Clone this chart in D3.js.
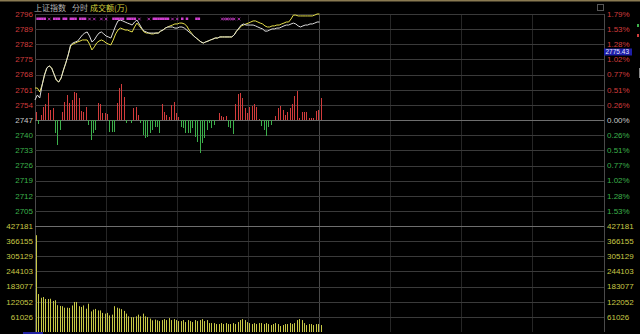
<!DOCTYPE html>
<html>
<head>
<meta charset="utf-8">
<script src="https://cdn.jsdelivr.net/npm/d3@7"></script>
<style>
  body { margin: 0; background: #000; }
  svg text { font-family: "Liberation Sans", Arial, sans-serif; font-size: 8px; }
</style>
</head>
<body>
<div id="chart"></div>
<script>
// ---------------- data ----------------
var preClose = 2747;
var priceTicks = [2796, 2789, 2782, 2775, 2768, 2761, 2754, 2747, 2740, 2733, 2726, 2719, 2712, 2705];
var pctTicks = ["1.79%", "1.53%", "1.28%", "1.02%", "0.77%", "0.51%", "0.26%", "0.00%",
                "0.26%", "0.51%", "0.77%", "1.02%", "1.28%", "1.53%"];
var volTicks = [427181, 366155, 305129, 244103, 183077, 122052, 61026];
var titleParts = ["上证指数", "分时", "成交额(万)"];
var cursorPrice = "2775.43";

// index (white) and unweighted index (yellow), one value per minute from 09:30
var indexLine = [2756.3, 2758.6, 2757.2, 2763.2, 2767.8, 2771.1, 2772.0, 2771.1, 2768.3, 2765.5,
  2764.6, 2766.4, 2770.1, 2773.4, 2777.1, 2781.7, 2782.6, 2783.1, 2783.5, 2784.9,
  2786.3, 2787.2, 2787.7, 2785.8, 2783.1, 2784.0, 2785.8, 2787.2, 2787.7, 2786.8,
  2785.8, 2785.4, 2784.9, 2787.7, 2790.5, 2792.8, 2793.2, 2792.8, 2792.3, 2791.8,
  2791.4, 2790.9, 2792.3, 2793.2, 2791.4, 2789.5, 2788.1, 2787.7, 2787.2, 2787.2,
  2787.2, 2787.2, 2787.2, 2788.1, 2788.6, 2789.5, 2790.0, 2790.0, 2790.0, 2789.5,
  2789.5, 2790.0, 2790.0, 2789.5, 2788.6, 2787.7, 2786.8, 2785.8, 2784.9, 2784.0,
  2783.1, 2782.6, 2783.1, 2783.5, 2784.0, 2784.4, 2784.9, 2784.9, 2785.4, 2785.4,
  2785.4, 2785.4, 2785.4, 2785.4, 2786.3, 2788.1, 2789.5, 2790.9, 2791.4, 2790.9,
  2790.9, 2790.9, 2790.9, 2790.5, 2790.0, 2789.5, 2789.1, 2788.1, 2788.1, 2788.6,
  2789.1, 2789.1, 2789.5, 2789.5, 2790.0, 2790.5, 2790.9, 2790.9, 2791.4, 2791.8,
  2791.4, 2790.5, 2790.0, 2790.5, 2790.9, 2790.9, 2791.4, 2791.4, 2791.8, 2792.3, 2792.3];

var avgLine = [2761.8, 2761.8, 2760.0, 2763.2, 2767.8, 2771.1, 2772.0, 2771.1, 2768.3, 2765.5,
  2764.6, 2766.4, 2770.1, 2773.4, 2777.1, 2781.2, 2782.1, 2782.6, 2783.1, 2783.5,
  2784.0, 2784.0, 2784.0, 2782.1, 2779.4, 2780.8, 2782.6, 2783.5, 2784.0, 2783.5,
  2782.6, 2782.1, 2781.7, 2784.0, 2786.8, 2788.6, 2789.5, 2789.1, 2788.6, 2788.6,
  2788.1, 2787.7, 2790.0, 2791.8, 2790.5, 2789.1, 2787.7, 2787.2, 2787.2, 2786.8,
  2786.8, 2787.2, 2787.2, 2788.1, 2788.6, 2789.5, 2790.0, 2790.5, 2790.9, 2791.4,
  2791.4, 2791.8, 2791.8, 2791.4, 2790.5, 2788.6, 2787.2, 2785.8, 2784.9, 2784.0,
  2783.1, 2782.6, 2783.1, 2783.5, 2784.0, 2784.4, 2784.9, 2784.9, 2785.4, 2785.4,
  2785.4, 2785.4, 2785.4, 2785.4, 2786.3, 2788.1, 2789.1, 2790.5, 2790.9, 2791.4,
  2791.8, 2792.3, 2792.8, 2792.8, 2792.3, 2791.8, 2791.4, 2790.5, 2790.0, 2790.0,
  2790.5, 2790.5, 2790.9, 2790.9, 2791.4, 2791.8, 2792.3, 2792.3, 2793.7, 2795.5,
  2795.5, 2795.1, 2795.1, 2795.1, 2795.1, 2795.1, 2795.1, 2795.1, 2795.5, 2796.0, 2796.0];

// buying / selling power bars (red up, green down)
var power = [8, -4, 5, 13, 16, 27, 10, 12, -13, -25,
  -10, 8, 18, 25, 17, 20, 28, 27, 22, 9,
  8, 13, -5, -20, -13, -10, 17, 16, 7, 7,
  6, -12, -12, -12, 17, 32, 36, 23, -3, 0,
  -3, 12, 13, 5, -3, -15, -18, -17, -13, -10,
  -7, -7, -13, 16, 8, 5, 3, 15, 18, 7,
  3, -7, -8, -13, -13, -13, -8, -17, -22, -33,
  -23, -18, -10, -3, -8, -5, 0, 7, 4, 3,
  4, -7, -8, -14, 16, 26, 27, 22, 12, 7,
  13, 14, 16, 13, 1, -6, -10, -16, -7, -5,
  0, 4, 12, 14, 10, 5, 8, 12, 16, 24,
  29, 2, 8, 8, 8, 2, 2, 2, 9, 10, 22];

// turnover per minute, in 万
var volume = [390000, 153000, 138000, 141000, 133000, 133000, 134000, 125000, 128000, 108000,
  105000, 104000, 98000, 98000, 97000, 107000, 121000, 121000, 104000, 101000,
  107000, 94000, 114000, 83000, 90000, 93000, 87000, 87000, 77000, 74000,
  77000, 67000, 70000, 104000, 98000, 95000, 92000, 85000, 74000, 63000,
  60000, 60000, 63000, 70000, 63000, 74000, 63000, 60000, 54000, 47000,
  50000, 47000, 44000, 48000, 52000, 48000, 56000, 48000, 52000, 48000,
  44000, 44000, 48000, 40000, 48000, 44000, 40000, 48000, 44000, 48000,
  52000, 44000, 48000, 36000, 36000, 36000, 32000, 32000, 36000, 32000,
  36000, 32000, 32000, 36000, 32000, 40000, 48000, 52000, 48000, 40000,
  36000, 32000, 36000, 32000, 36000, 36000, 32000, 36000, 32000, 28000,
  32000, 36000, 32000, 24000, 28000, 32000, 32000, 36000, 32000, 36000,
  48000, 52000, 48000, 36000, 28000, 32000, 32000, 28000, 32000, 32000, 28000];

// minutes that carry a signal mark in the strip under the title
var markSquares = [1, 2, 3, 4, 8, 9, 10, 12, 13, 15, 16, 17, 19, 20, 21, 33, 34, 35, 36, 37, 39, 40, 41, 42, 50, 51, 52, 53, 54, 55, 56, 62, 64, 68, 69];
var markCrosses = [6, 23, 25, 28, 30, 44, 48, 58, 60, 79, 80, 81, 82, 83, 84, 86];

// ---------------- layout ----------------
var width = 640, height = 334;
var left = 35, right = 604;
var upCol = "#d23c3c", downCol = "#3cb04b", flatCol = "#c8c8c8", volCol = "#c8c846";

var x = d3.scaleLinear().domain([0, 240]).range([left, right]);
var y = d3.scaleLinear().domain([2705, 2796]).range([211, 14]);
var yPow = d3.scaleLinear().domain([-106, 106]).range([226, 14]);
var yVol = d3.scaleLinear().domain([0, 427181]).range([332, 226]);

// bar centre for minute i (half-pixel so 1px strokes stay sharp)
function bx(i) { return Math.round(x(i)) + 1.5; }

var svg = d3.select("#chart").append("svg")
  .attr("width", width).attr("height", height)
  .style("background", "#000");

// top border
svg.append("rect").attr("x", 0).attr("y", 0).attr("width", width).attr("height", 1.5).attr("fill", "#8a7a52");

// ---- grid ----
var grid = svg.append("g").attr("shape-rendering", "crispEdges");
d3.range(0, 241, 30).forEach(function (m) {
  grid.append("line")
    .attr("x1", x(m)).attr("x2", x(m)).attr("y1", 14).attr("y2", 332)
    .attr("stroke", (m === 0 || m === 120 || m === 240) ? "#4a4a4a" : "#262626");
});
priceTicks.forEach(function (p) {
  grid.append("line").attr("x1", left).attr("x2", right)
    .attr("y1", Math.round(y(p)) + 0.5).attr("y2", Math.round(y(p)) + 0.5)
    .attr("stroke", p === preClose ? "#6e6e6e" : "#3a3a3a");
});
volTicks.forEach(function (v) {
  grid.append("line").attr("x1", left).attr("x2", right)
    .attr("y1", Math.round(yVol(v)) + 0.5).attr("y2", Math.round(yVol(v)) + 0.5)
    .attr("stroke", v === volTicks[0] ? "#6e6e6e" : "#3a3a3a");
});

// ---- axis labels ----
function priceColor(p) { return p > preClose ? upCol : (p < preClose ? downCol : flatCol); }
var lab = svg.append("g");
priceTicks.forEach(function (p, i) {
  lab.append("text").attr("x", left - 2).attr("y", y(p)).attr("dy", "0.35em")
    .attr("text-anchor", "end").attr("fill", priceColor(p)).text(p);
  lab.append("text").attr("x", right + 3).attr("y", y(p)).attr("dy", "0.35em")
    .attr("fill", priceColor(p)).text(pctTicks[i]);
});
volTicks.forEach(function (v) {
  lab.append("text").attr("x", left - 2).attr("y", yVol(v)).attr("dy", "0.35em")
    .attr("text-anchor", "end").attr("fill", volCol).text(v);
  lab.append("text").attr("x", right + 3).attr("y", yVol(v)).attr("dy", "0.35em")
    .attr("fill", volCol).text(v);
});

// ---- title ----
var title = svg.append("text").attr("x", 34).attr("y", 11)
  .style("font-family", "'Noto Sans CJK SC', sans-serif").style("font-size", "8px");
title.append("tspan").attr("fill", "#b4b4b4").text(titleParts[0]);
title.append("tspan").attr("dx", 6).attr("fill", "#b4b4b4").text(titleParts[1]);
title.append("tspan").attr("dx", 2).attr("fill", "#d6d23c").text(titleParts[2]);

// small window icon
svg.append("rect").attr("x", 597.5).attr("y", 4.5).attr("width", 6).attr("height", 6)
  .attr("fill", "none").attr("stroke", "#555");

// ---- power bars ----
svg.append("g").selectAll("line").data(power).enter().append("line")
  .attr("x1", function (d, i) { return bx(i); })
  .attr("x2", function (d, i) { return bx(i); })
  .attr("y1", yPow(0))
  .attr("y2", function (d) { return yPow(d); })
  .attr("stroke-width", 1)
  .attr("stroke", function (d) { return d >= 0 ? upCol : downCol; });

// ---- volume bars ----
svg.append("g").selectAll("line").data(volume).enter().append("line")
  .attr("x1", function (d, i) { return bx(i); })
  .attr("x2", function (d, i) { return bx(i); })
  .attr("y1", yVol(0))
  .attr("y2", function (d) { return yVol(d); })
  .attr("stroke-width", 1)
  .attr("stroke", volCol);

// ---- price lines ----
var line = d3.line().x(function (d, i) { return x(i); }).y(function (d) { return y(d); });
svg.append("path").datum(avgLine).attr("d", line)
  .attr("fill", "none").attr("stroke", "#e6e04a").attr("stroke-width", 1);
svg.append("path").datum(indexLine).attr("d", line)
  .attr("fill", "none").attr("stroke", "#dcdcdc").attr("stroke-width", 1);

// ---- signal marks ----
var marks = svg.append("g").attr("fill", "#d040d0").attr("stroke", "#d040d0");
markSquares.forEach(function (m) {
  marks.append("rect").attr("x", x(m) - 1).attr("y", 17.5).attr("width", 2.5).attr("height", 2.5).attr("stroke", "none");
});
markCrosses.forEach(function (m) {
  var cx = x(m), cy = 19;
  marks.append("path").attr("d", "M" + (cx - 1.3) + "," + (cy - 1.3) + "L" + (cx + 1.3) + "," + (cy + 1.3) +
    "M" + (cx - 1.3) + "," + (cy + 1.3) + "L" + (cx + 1.3) + "," + (cy - 1.3)).attr("stroke-width", 0.8);
});

// ---- cursor price box on right axis ----
var cy0 = 48.5;
svg.append("rect").attr("x", right).attr("y", cy0).attr("width", 28).attr("height", 7).attr("fill", "#1e1ea8");
svg.append("text").attr("x", right + 1.5).attr("y", cy0 + 5.6).attr("fill", "#e6e6ff")
  .style("font-size", "6.5px").text(cursorPrice);

// scroll strip bits on the far right
svg.append("rect").attr("x", 637).attr("y", 24).attr("width", 2).attr("height", 3).attr("fill", downCol);
svg.append("rect").attr("x", 637).attr("y", 34).attr("width", 2).attr("height", 3).attr("fill", upCol);
svg.append("rect").attr("x", 639).attr("y", 68).attr("width", 1).attr("height", 10).attr("fill", "#888");
svg.append("rect").attr("x", 23).attr("y", 332).attr("width", 20).attr("height", 2).attr("fill", "#2020a0");
</script>
</body>
</html>
